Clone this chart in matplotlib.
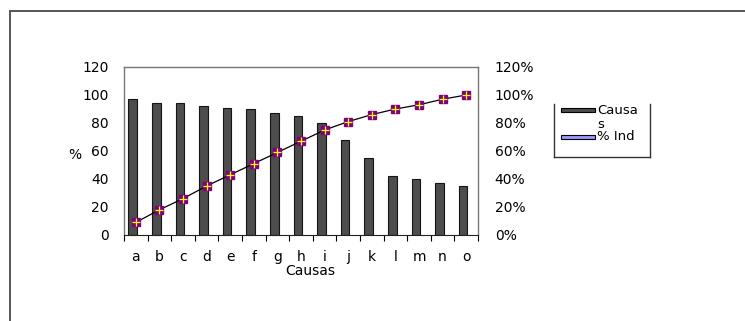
import matplotlib
matplotlib.use("Agg")
import matplotlib.pyplot as plt
from matplotlib.lines import Line2D
from matplotlib.patches import Rectangle
from matplotlib.ticker import FuncFormatter

plt.rcParams['font.family'] = ['DejaVu Sans']

causas = list("abcdefghijklmno")
frecuencia = [97, 94, 94, 92, 91, 90, 87, 85, 80, 68, 55, 42, 40, 37, 35]
acumulado = [9, 18, 26, 35, 43, 51, 59, 67, 75, 81, 86, 90, 93, 97, 100]
y_ticks = [0, 20, 40, 60, 80, 100, 120]

FS = 10
W, H = 745, 321
fig = plt.figure(figsize=(W / 100, H / 100), dpi=100)
fig.patch.set_facecolor("white")

# outer frame (left and top edges)
fig.add_artist(Line2D([10 / W, 10 / W], [0, 1 - 11 / H], color="#555555", lw=1.4))
fig.add_artist(Line2D([10 / W, 1], [1 - 11 / H, 1 - 11 / H], color="#555555", lw=1.4))

ax = fig.add_axes([124 / W, 1 - 235 / H, 354 / W, 168 / H])
x = list(range(len(causas)))

ax.bar([i - 0.13 for i in x], frecuencia, width=0.36,
       facecolor="#4d4d4d", edgecolor="#151515", linewidth=0.8, zorder=2)
ax.plot(x, acumulado, color="black", lw=0.9, zorder=3)
ax.plot(x, acumulado, ls="none", marker="s", ms=5.5, mfc="#800080",
        mec="#800080", zorder=4)
ax.plot(x, acumulado, ls="none", marker="+", ms=6, mew=0.9,
        color="#ffff00", zorder=5)

ax.set_xlim(-0.5, len(causas) - 0.5)
ax.set_ylim(0, 120)
ax.set_yticks(y_ticks)
ax.tick_params(axis="y", length=0, pad=11, labelsize=FS)

# category boundaries carry the tick marks, centres carry the labels
ax.set_xticks([i - 0.5 for i in range(len(causas) + 1)])
ax.set_xticklabels([])
ax.set_xticks(x, minor=True)
ax.set_xticklabels(causas, minor=True)
ax.tick_params(axis="x", which="major", length=4, direction="out", width=0.8)
ax.tick_params(axis="x", which="minor", length=0, pad=11, labelsize=FS)

for s in ["top", "right", "left"]:
    ax.spines[s].set_color("#777777")
    ax.spines[s].set_linewidth(1.0)
ax.spines["bottom"].set_color("#222222")

ax.set_ylabel("%", rotation=0, fontsize=FS, va="center", ha="center")
ax.yaxis.set_label_coords(-0.138, 0.476)
ax.set_xlabel("Causas", fontsize=FS, va="center", ha="center")
ax.xaxis.set_label_coords(0.525, -0.214)

ax2 = ax.twinx()
ax2.set_ylim(0, 1.2)
ax2.set_yticks([v / 100 for v in y_ticks])
ax2.yaxis.set_major_formatter(FuncFormatter(lambda v, p: f"{v * 100:.0f}%"))
ax2.tick_params(axis="y", length=0, pad=12, labelsize=FS)
for s in ["top", "right", "left", "bottom"]:
    ax2.spines[s].set_visible(False)

# legend box (open at the top)
lx0, lx1, ly1 = 554, 650, 157
fig.add_artist(Line2D([lx0 / W, lx0 / W], [1 - 104 / H, 1 - ly1 / H], color="#333333", lw=1.0))
fig.add_artist(Line2D([lx1 / W, lx1 / W], [1 - 104 / H, 1 - ly1 / H], color="#333333", lw=1.0))
fig.add_artist(Line2D([lx0 / W, lx1 / W], [1 - ly1 / H, 1 - ly1 / H], color="#333333", lw=1.0))

fig.add_artist(Rectangle((561 / W, 1 - 112 / H), 34 / W, 4 / H,
                         facecolor="#4d4d4d", edgecolor="black", lw=0.8))
fig.text(597 / W, 1 - 110 / H, "Causa", fontsize=FS - 0.5, va="center", ha="left")
fig.text(597 / W, 1 - 124 / H, "s", fontsize=FS - 0.5, va="center", ha="left")
fig.add_artist(Rectangle((561 / W, 1 - 139 / H), 34 / W, 4 / H,
                         facecolor="#9999ff", edgecolor="black", lw=0.8))
fig.text(597 / W, 1 - 137 / H, "% Ind", fontsize=FS - 0.5, va="center", ha="left")

fig.savefig("out.png", dpi=100, facecolor="white")
